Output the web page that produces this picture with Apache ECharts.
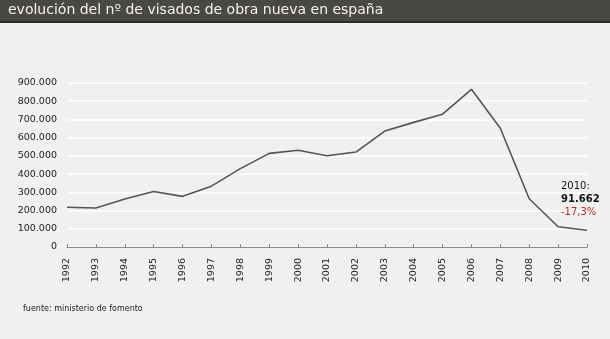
<!DOCTYPE html>
<html><head><meta charset="utf-8">
<script src="https://cdn.jsdelivr.net/npm/echarts@6/dist/echarts.min.js"></script>
<style>html,body{margin:0;padding:0;background:#f0f0ee;}#c{width:610px;height:339px;}</style>
</head><body><div id="c"></div>
<script>
const years = ['1992','1993','1994','1995','1996','1997','1998','1999','2000','2001','2002','2003','2004','2005','2006','2007','2008','2009','2010'];
const visados = [218000,214000,263000,305000,278000,334000,430000,514000,531000,501000,521000,636000,684000,729000,865561,651427,264795,111140,91662];
const yTicks = [0,100000,200000,300000,400000,500000,600000,700000,800000,900000];
const titleText = 'evolución del nº de visados de obra nueva en españa';
const sourceText = 'fuente: ministerio de fomento';
const lastLabel = {year:'2010', value:'91.662', change:'-17,3%'};

const chart = echarts.init(document.getElementById('c'), null, {renderer:'canvas'});
const fmt = v => v === 0 ? '0' : String(v).replace(/\B(?=(\d{3})+(?!\d))/g, '.');
chart.setOption({
  backgroundColor:'#f0f0ee',
  animation:false,
  graphic:[
    {type:'rect', left:0, top:0, shape:{width:610, height:21}, style:{fill:'#4a4844'}, z:0},
    {type:'rect', left:0, top:21, shape:{width:610, height:2}, style:{fill:'#2a2a28'}, z:0},
    {type:'text', left:8, top:3, style:{text:titleText, fill:'#f5f3e6', font:'14px "DejaVu Sans"'}, z:1},
    {type:'text', left:23, top:305, style:{text:sourceText, fill:'#222', font:'8px "DejaVu Sans"'}}
  ],
  grid:{left:67, right:23, top:83, bottom:92, containLabel:false},
  xAxis:{
    type:'category', data:years, boundaryGap:false,
    axisLine:{lineStyle:{color:'#8a8a8a', width:1}},
    axisTick:{show:true, inside:true, length:3, lineStyle:{color:'#8a8a8a'}},
    axisLabel:{rotate:90, color:'#222', fontFamily:'DejaVu Sans', fontSize:9.5, margin:11, interval:0},
    splitLine:{show:false}
  },
  yAxis:{
    type:'value', min:0, max:900000, interval:100000,
    axisLine:{show:false}, axisTick:{show:false},
    axisLabel:{color:'#222', fontFamily:'DejaVu Sans', fontSize:9.5, margin:10, formatter:fmt},
    splitLine:{lineStyle:{color:'#ffffff', width:1.5}}
  },
  series:[{
    type:'line', data:visados, showSymbol:false, symbol:'none',
    lineStyle:{color:'#555', width:1.6},
    markPoint:{
      symbol:'circle', symbolSize:0,
      data:[{coord:[lastLabel.year, visados[visados.length-1]]}],
      label:{
        show:true, position:'inside', align:'left', verticalAlign:'bottom', offset:[-26,-11],
        formatter: () => '{a|'+lastLabel.year+':}\n{b|'+lastLabel.value+'}\n{c|'+lastLabel.change+'}',
        rich:{
          a:{color:'#111', fontFamily:'DejaVu Sans', fontSize:10, lineHeight:13, align:'left'},
          b:{color:'#111', fontFamily:'DejaVu Sans', fontSize:10, fontWeight:'bold', lineHeight:13, align:'left'},
          c:{color:'#c0262b', fontFamily:'DejaVu Sans', fontSize:10, lineHeight:13, align:'left'}
        }
      }
    }
  }]
});
</script></body></html>
